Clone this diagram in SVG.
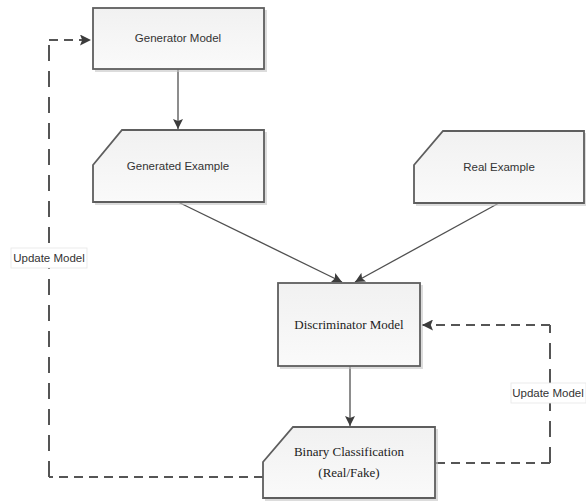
<svg xmlns="http://www.w3.org/2000/svg" width="586" height="502" viewBox="0 0 586 502">
<style>
.box{fill:url(#g);stroke:#5e5e5e;stroke-width:1.8}
.sh{fill:#c4c4c4;opacity:0.6}
.sans{font-family:"Liberation Sans","DejaVu Sans",sans-serif;font-size:11.5px;fill:#333;text-anchor:middle}
.serif{font-family:"Liberation Serif","Times New Roman",serif;font-size:13px;fill:#222;text-anchor:middle}
.solid{fill:none;stroke:#505050;stroke-width:1.3}
.dh{fill:none;stroke:#555;stroke-width:2;stroke-dasharray:9,6}
.dv{fill:none;stroke:#555;stroke-width:2;stroke-dasharray:16,10}
.lbl{fill:#fff;stroke:#e6e6e6;stroke-width:0.8}
</style>
<defs>
<linearGradient id="g" x1="0" y1="0" x2="0" y2="1">
<stop offset="0" stop-color="#f1f1f1"/>
<stop offset="1" stop-color="#fafafa"/>
</linearGradient>
<marker id="ah" viewBox="0 0 10 10" refX="10" refY="5" markerWidth="10" markerHeight="10" markerUnits="userSpaceOnUse" orient="auto">
<path d="M0,0 L10,5 L0,10 L2,5 Z" fill="#3c3c3c"/>
</marker>
<marker id="ahd" viewBox="0 0 10 10" refX="10" refY="5" markerWidth="11" markerHeight="11" markerUnits="userSpaceOnUse" orient="auto">
<path d="M0,0 L10,5 L0,10 L2,5 Z" fill="#3c3c3c"/>
</marker>
</defs>

<g id="connectors">
<line class="solid" x1="178" y1="69" x2="178" y2="129" marker-end="url(#ah)"/>
<line class="solid" x1="178" y1="202" x2="342" y2="282" marker-end="url(#ah)"/>
<line class="solid" x1="499" y1="203" x2="355" y2="282" marker-end="url(#ah)"/>
<line class="solid" x1="350" y1="366" x2="350" y2="426" marker-end="url(#ah)"/>
<g id="update-generator">
<line class="dh" x1="263" y1="477" x2="49" y2="477"/>
<line class="dv" x1="49" y1="477" x2="49" y2="40"/>
<line class="dh" x1="49" y1="40" x2="91" y2="40" marker-end="url(#ahd)"/>
</g>
<g id="update-discriminator">
<line class="dh" x1="436" y1="463" x2="550" y2="463"/>
<line class="dv" x1="550" y1="463" x2="550" y2="325"/>
<line class="dh" x1="550" y1="325" x2="422" y2="325" marker-end="url(#ahd)"/>
</g>
<g id="label-left">
<rect class="lbl" x="11" y="248" width="76" height="20"/>
<text class="sans" x="49" y="262">Update Model</text>
</g>
<g id="label-right">
<rect class="lbl" x="511" y="383" width="75" height="20"/>
<text class="sans" x="548" y="397">Update Model</text>
</g>
</g>

<g id="generator-model">
<rect class="sh" x="95" y="10" width="172" height="62"/>
<rect class="box" x="93" y="8" width="171" height="61"/>
<text class="sans" x="178" y="42">Generator Model</text>
</g>

<g id="generated-example">
<path class="sh" d="M124,132 L267,132 L267,205 L95,205 L95,167 Z"/>
<path class="box" d="M122,130 L264,130 L264,202 L93,202 L93,165 Z"/>
<text class="sans" x="178" y="170">Generated Example</text>
</g>

<g id="real-example">
<path class="sh" d="M445,133 L586,133 L586,206 L416,206 L416,167 Z"/>
<path class="box" d="M443,131 L584,131 L584,203 L414,203 L414,165 Z"/>
<text class="sans" x="499" y="171">Real Example</text>
</g>

<g id="discriminator-model">
<rect class="sh" x="280" y="285" width="143" height="84"/>
<rect class="box" x="278" y="283" width="142" height="83"/>
<text class="serif" x="349" y="329">Discriminator Model</text>
</g>

<g id="binary-classification">
<path class="sh" d="M295,429 L438,429 L438,501 L265,501 L265,464 Z"/>
<path class="box" d="M293,427 L435,427 L435,498 L263,498 L263,462 Z"/>
<text class="serif" x="349" y="456">Binary Classification</text>
<text class="serif" x="349" y="477">(Real/Fake)</text>
</g>
</svg>
